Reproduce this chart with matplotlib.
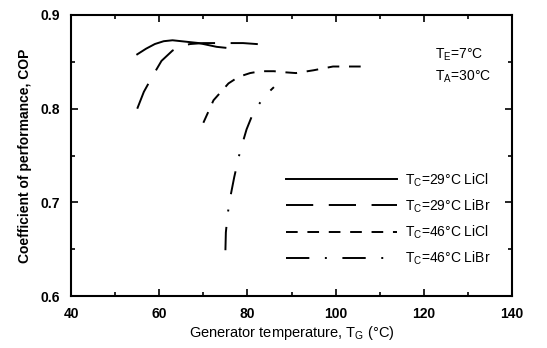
import matplotlib
matplotlib.use("Agg")
import matplotlib.pyplot as plt
from matplotlib.ticker import MultipleLocator

plt.rcParams['font.family'] = ['Liberation Sans', 'DejaVu Sans']
plt.rcParams['mathtext.default'] = 'regular'

# COP vs generator temperature
t_licl29 = [55, 57, 59, 61, 63, 65, 67, 69, 71, 73, 75]
cop_licl29 = [0.858, 0.864, 0.869, 0.872, 0.873, 0.872, 0.871, 0.870, 0.868, 0.866, 0.865]

t_libr29 = [55, 56.5, 58.5, 60.5, 63, 65, 67, 70, 73, 76, 79, 82, 85]
cop_libr29 = [0.800, 0.818, 0.835, 0.851, 0.862, 0.867, 0.869, 0.870, 0.870, 0.870, 0.870, 0.869, 0.868]

t_licl46 = [70, 72.3, 75.7, 78, 80.6, 83, 86, 88, 91, 95, 99.4, 103, 106.3]
cop_licl46 = [0.785, 0.809, 0.827, 0.834, 0.838, 0.840, 0.840, 0.839, 0.838, 0.841, 0.845, 0.845, 0.845]

t_libr46 = [75.0, 75.1, 75.5, 76.0, 77.0, 78.3, 79.8, 81.0, 82.5, 84.0, 86.0]
cop_libr46 = [0.649, 0.668, 0.687, 0.703, 0.727, 0.754, 0.778, 0.792, 0.804, 0.814, 0.823]

fig = plt.figure(figsize=(5.47, 3.48), dpi=100)
ax = fig.add_axes([0.130, 0.149, 0.806, 0.808])

lw = 1.4
ax.plot(t_licl29, cop_licl29, color='black', lw=lw, label='T$_C$=29\u00b0C LiCl')
ax.plot(t_libr29, cop_libr29, color='black', lw=lw, dashes=(14, 8), label='T$_C$=29\u00b0C LiBr')
ax.plot(t_licl46, cop_licl46, color='black', lw=lw, dashes=(6, 5), label='T$_C$=46\u00b0C LiCl')
ax.plot(t_libr46, cop_libr46, color='black', lw=lw, dashes=(12, 8, 1, 8), label='T$_C$=46\u00b0C LiBr')

ax.set_xlim(40, 140)
ax.set_ylim(0.6, 0.9)
ax.xaxis.set_major_locator(MultipleLocator(20))
ax.xaxis.set_minor_locator(MultipleLocator(10))
ax.yaxis.set_major_locator(MultipleLocator(0.1))
ax.yaxis.set_minor_locator(MultipleLocator(0.05))
ax.tick_params(which='both', direction='in', top=True, right=True, width=1.2)
ax.tick_params(which='major', length=5, labelsize=10, pad=8)
ax.tick_params(which='minor', length=3)
for lab in ax.get_xticklabels() + ax.get_yticklabels():
    lab.set_fontweight('bold')
for s in ax.spines.values():
    s.set_linewidth(1.5)

ax.set_xlabel('Generator temperature, T$_G$ (\u00b0C)', fontsize=10.5, labelpad=2)
ax.set_ylabel('Coefficient of performance, COP', fontsize=10, fontweight='bold', labelpad=6)

ax.text(0.825, 0.86, 'T$_E$=7\u00b0C', transform=ax.transAxes, fontsize=10, ha='left', va='center')
ax.text(0.825, 0.78, 'T$_A$=30\u00b0C', transform=ax.transAxes, fontsize=10, ha='left', va='center')

ax.legend(loc='lower right', bbox_to_anchor=(0.98, 0.06), frameon=False, fontsize=10,
          handlelength=8.0, handletextpad=0.6, labelspacing=0.62)

fig.savefig('out.png', dpi=100)
